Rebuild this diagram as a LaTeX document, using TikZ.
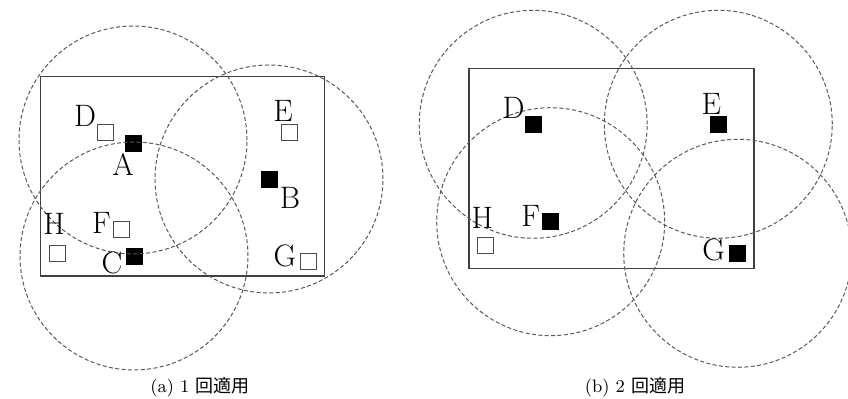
\documentclass[tikz,border=0pt]{standalone}
\usepackage{fontspec}
\newfontfamily\jpfont{Noto Sans CJK JP}
\usepackage{tikz}

\tikzset{
  area/.style={draw=black!75, line width=0.6pt},
  reach/.style={draw=black!65, line width=0.5pt, dash pattern=on 2pt off 1.2pt},
  emptysq/.style={rectangle, draw=black!70, line width=0.4pt, fill=white, minimum size=8pt, inner sep=0pt},
  fullsq/.style={emptysq, draw=black, fill=black},
  lab/.style={inner sep=0pt, font=\fontsize{15.5}{17}\selectfont},
  subcap/.style={inner sep=0pt, font=\fontsize{9}{11}\selectfont}
}

\begin{document}
\begin{tikzpicture}[x=0.5pt, y=-0.5pt]
      \useasboundingbox (0,0) rectangle (848,399);
      % Panel (a)
      \draw[area] (40.7,76.3) rectangle (324.3,276);
      \node[fullsq] (aA) at (133,143) {};
      \node[fullsq] (aB) at (269,179) {};
      \node[fullsq] (aC) at (134,256) {};
      \draw[reach] ([yshift=1.5pt]aA) circle (57pt);
      \draw[reach] (aB) circle (57pt);
      \draw[reach] (aC) circle (57pt);
      \node[emptysq] (aD) at (105,132) {};
      \node[emptysq] (aE) at (289,132) {};
      \node[emptysq] (aF) at (121.5,229.5) {};
      \node[emptysq] (aG) at (308,261.3) {};
      \node[emptysq] (aH) at (57,253.5) {};
      \node[lab] (laA) at ([shift={(-10,22)}]aA) {A};
      \node[lab] (laB) at ([shift={(21,19)}]aB) {B};
      \node[lab] (laC) at ([shift={(-22,7)}]aC) {C};
      \node[lab] (laD) at ([shift={(-20,-16)}]aD) {D};
      \node[lab] (laE) at ([shift={(-6,-21.5)}]aE) {E};
      \node[lab] (laF) at ([shift={(-20,-7)}]aF) {F};
      \node[lab] (laG) at ([shift={(-23,-5)}]aG) {G};
      \node[lab] (laH) at ([shift={(-3,-30)}]aH) {H};
      \node[subcap] (capa) at (200,387) {(a) 1 {\jpfont 回適用}};
      % Panel (b)
      \draw[area] (469,68.7) rectangle (754,268.3);
      \node[fullsq] (bD) at (533.2,124.3) {};
      \node[fullsq] (bE) at (718.3,124.3) {};
      \node[fullsq] (bF) at (550.7,221.7) {};
      \node[fullsq] (bG) at (737.7,253.3) {};
      \draw[reach] (bD) circle (57pt);
      \draw[reach] (bE) circle (57pt);
      \draw[reach] (bF) circle (57pt);
      \draw[reach] (bG) circle (57pt);
      \node[emptysq] (bH) at (485.3,245.8) {};
      \node[lab] (lbD) at ([shift={(-19.7,-16.8)}]bD) {D};
      \node[lab] (lbE) at ([shift={(-7,-20)}]bE) {E};
      \node[lab] (lbF) at ([shift={(-20,-6)}]bF) {F};
      \node[lab] (lbG) at ([shift={(-24,-3)}]bG) {G};
      \node[lab] (lbH) at ([shift={(-3,-28)}]bH) {H};
      \node[subcap] (capb) at (635,387) {(b) 2 {\jpfont 回適用}};
    \end{tikzpicture}
\end{document}
